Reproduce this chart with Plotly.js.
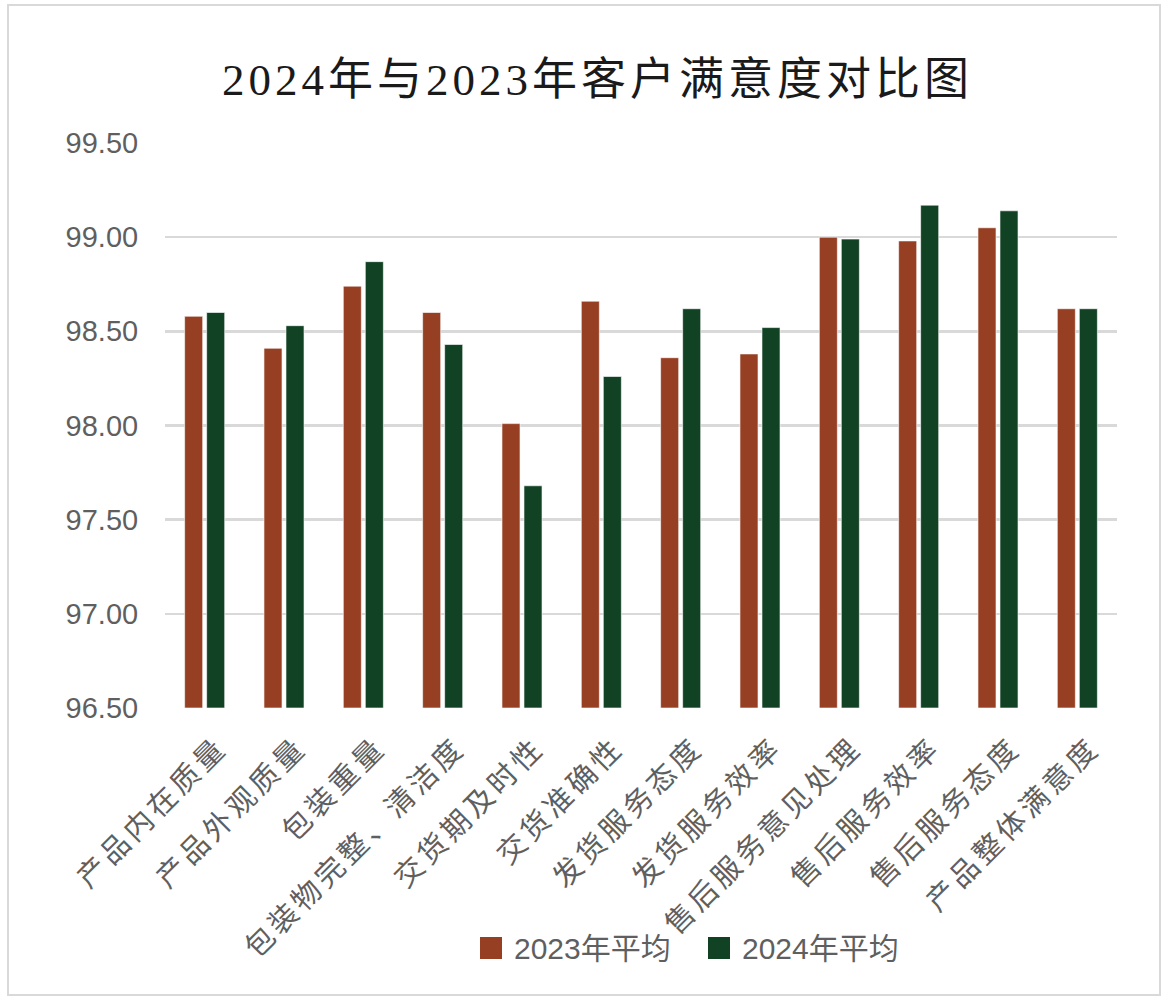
<!DOCTYPE html>
<html>
<head>
<meta charset="utf-8">
<script src="https://cdn.plot.ly/plotly-3.0.1.min.js"></script>
<style>
html,body{margin:0;padding:0;background:#fff;}
#wrap{position:relative;width:1167px;height:998px;}
#chart{width:1167px;height:998px;}
#frame{position:absolute;left:7px;top:4px;width:1150px;height:988px;border:2px solid #d9d9d9;pointer-events:none;}
.gtitle{letter-spacing:4px;}
.xtick text{letter-spacing:4px;}
g.xaxislayer-above{transform:translate(14px,-4px);}
</style>
</head>
<body>
<div id="wrap"><div id="chart"></div><div id="frame"></div></div>
<script>
const categories = ["产品内在质量","产品外观质量","包装重量","包装物完整、清洁度","交货期及时性","交货准确性","发货服务态度","发货服务效率","售后服务意见处理","售后服务效率","售后服务态度","产品整体满意度"];
const avg2023 = [98.58, 98.41, 98.74, 98.60, 98.01, 98.66, 98.36, 98.38, 99.00, 98.98, 99.05, 98.62];
const avg2024 = [98.60, 98.53, 98.87, 98.43, 97.68, 98.26, 98.62, 98.52, 98.99, 99.17, 99.14, 98.62];
const seriesNames = ["2023年平均","2024年平均"];
const seriesColors = ['#973f23', '#114224'];
const yTicks = [96.5, 97.0, 97.5, 98.0, 98.5, 99.0, 99.5];

const base = 96.5;
const mk = (vals, name, color) => ({
  type: 'bar', x: categories, y: vals.map(v => v - base), base: base, name: name,
  marker: {color: color, line: {color: 'rgba(255,255,255,0.6)', width: 1}},
  hoverinfo: 'skip', showlegend: false
});

const data = [
  mk(avg2023, seriesNames[0], seriesColors[0]),
  mk(avg2024, seriesNames[1], seriesColors[1])
];

const gray = '#5f5f5f';
// legend drawn as shapes + annotations (positions in paper coords, sizes in pixels)
const legendX = [(480 - 165) / 952, (708 - 165) / 952];
const legendY = (708 - 948) / 565;
const shapes = legendX.map((lx, i) => ({
  type: 'rect', xref: 'paper', yref: 'paper',
  xsizemode: 'pixel', ysizemode: 'pixel', xanchor: lx, yanchor: legendY,
  x0: 0, x1: 22, y0: -11, y1: 11,
  fillcolor: seriesColors[i], line: {width: 0}
}));
const annotations = legendX.map((lx, i) => ({
  text: seriesNames[i], xref: 'paper', yref: 'paper',
  x: lx + 32 / 952, y: legendY, xanchor: 'left', yanchor: 'middle', showarrow: false,
  font: {family: '"Liberation Sans", "Noto Sans CJK SC", sans-serif', size: 30, color: gray}
}));

const layout = {
  width: 1167, height: 998,
  margin: {l: 165, r: 50, t: 143, b: 290},
  paper_bgcolor: '#fff', plot_bgcolor: '#fff',
  title: {
    text: '2024年与2023年客户满意度对比图',
    font: {family: '"Liberation Serif", "Noto Sans CJK SC", serif', size: 45, color: '#1a1a1a'},
    x: 0.512, xref: 'container', xanchor: 'center',
    y: 0.921, yref: 'container', yanchor: 'middle'
  },
  bargap: 0.445, bargroupgap: 0.18, barmode: 'group',
  xaxis: {
    tickangle: -45,
    tickfont: {family: '"Noto Sans CJK SC", sans-serif', size: 29, color: gray},
    showgrid: false, showline: false, ticks: 'outside', ticklen: 14, tickcolor: 'rgba(0,0,0,0)',
    automargin: false
  },
  yaxis: {
    range: [96.5, 99.5],
    tickvals: yTicks,
    ticktext: yTicks.map(v => v.toFixed(2)),
    tickfont: {family: '"Liberation Sans", Arial, sans-serif', size: 29, color: gray},
    gridcolor: '#d9d9d9', gridwidth: 2.5,
    zeroline: false, showline: false, ticks: 'outside', ticklen: 20, tickcolor: 'rgba(0,0,0,0)',
    automargin: false
  },
  showlegend: false,
  shapes: shapes,
  annotations: annotations
};

Plotly.newPlot('chart', data, layout, {staticPlot: true, displayModeBar: false});
</script>
</body>
</html>
